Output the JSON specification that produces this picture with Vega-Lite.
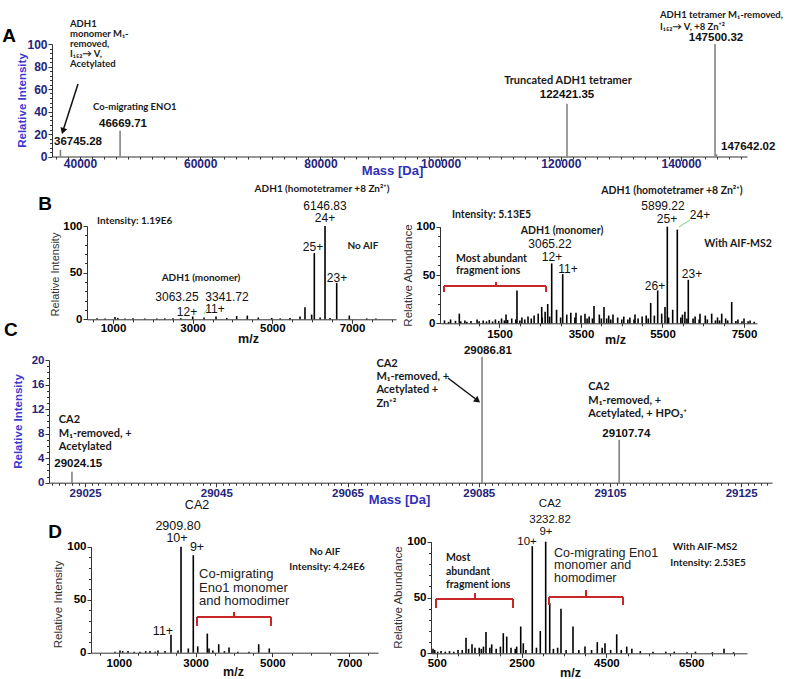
{
"$schema": "https://vega.github.io/schema/vega-lite/v6.json",
"width": 800, "height": 679, "padding": 0, "autosize": {"type": "none"},
"background": "white",
"config": {"view": {"stroke": null}, "font": "Liberation Sans",
  "axis": {"grid": false, "labelFont": "Liberation Sans", "titleFont": "Liberation Sans", "domainColor": "#333", "tickColor": "#333", "labelOverlap": false, "labelFlush": false, "tickSize": 4, "domainWidth": 1, "tickWidth": 1}},
"datasets": {
 "A_pk": [{"m":36745,"h":6},{"m":46669,"h":23},{"m":121030,"h":47},{"m":145660,"h":100},{"m":145900,"h":2}],
 "A_ann": [
  {"k":"note","x":38336,"y":117.8,"t":"ADH1"},
  {"k":"note","x":38336,"y":108.9,"t":"monomer M₁-"},
  {"k":"note","x":38336,"y":100.0,"t":"removed,"},
  {"k":"note","x":38336,"y":91.1,"t":"I₁₅₂→ V,"},
  {"k":"note","x":38336,"y":82.2,"t":"Acetylated"},
  {"k":"note","x":42163,"y":44.0,"t":"Co-migrating ENO1"},
  {"k":"notec","x":121198,"y":67.1,"t":"Truncated ADH1 tetramer"},
  {"k":"note","x":136506,"y":125.8,"t":"ADH1 tetramer M₁-removed,"},
  {"k":"note","x":136506,"y":115.1,"t":"I₁₅₂→ V, +8 Zn⁺²"},
  {"k":"num","x":47155,"y":28.9,"t":"46669.71"},
  {"k":"num","x":39667,"y":12.9,"t":"36745.28"},
  {"k":"num","x":121032,"y":54.7,"t":"122421.35"},
  {"k":"num","x":145824,"y":105.3,"t":"147500.32"},
  {"k":"numl","x":146656,"y":8.4,"t":"147642.02"},
  {"k":"letter","x":28186,"y":107.1,"t":"A"}],
 "A_arrow": [{"x":39667,"y":64.4,"x2":37155,"y2":22.6}],
 "A_head": [{"x":37155,"y":22.6}],
 "BL_pk": [{"m":6054,"h":71},{"m":6323,"h":100},{"m":6616,"h":39},{"m":5820,"h":13},{"m":5988,"h":5},{"m":5695,"h":3},{"m":6933,"h":4},{"m":4372,"h":4},{"m":4105,"h":3.5},{"m":3586,"h":3},{"m":3001,"h":3},{"m":3285,"h":2},{"m":1050,"h":2.5},{"m":1120,"h":1.5},{"m":4648,"h":2},{"m":4984,"h":1.5},{"m":1502,"h":1},{"m":2506,"h":1},{"m":3855,"h":1.5},{"m":5444,"h":1.5},{"m":7370,"h":1},{"m":600,"h":1},{"m":800,"h":0.8},{"m":1300,"h":0.8},{"m":1800,"h":0.8},{"m":2100,"h":0.8},{"m":2300,"h":1},{"m":2700,"h":1.2},{"m":5200,"h":1},{"m":6450,"h":1.5},{"m":6200,"h":2},{"m":7600,"h":0.8}],
 "BL_ann": [
  {"k":"letter","x":-707,"y":123.6,"t":"B"},
  {"k":"note","x":598,"y":105.4,"t":"Intensity: 1.19E6"},
  {"k":"notec","x":6247,"y":139.7,"t":"ADH1 (homotetramer +8 Zn²⁺)"},
  {"k":"num","x":6323,"y":121.4,"t":"6146.83"},
  {"k":"num","x":6323,"y":108.6,"t":"24+"},
  {"k":"num","x":6021,"y":77.5,"t":"25+"},
  {"k":"notec","x":7277,"y":78.6,"t":"No AIF"},
  {"k":"num","x":6624,"y":44.3,"t":"23+"},
  {"k":"notec","x":3209,"y":44.3,"t":"ADH1 (monomer)"},
  {"k":"num","x":2607,"y":23.8,"t":"3063.25"},
  {"k":"num","x":3862,"y":23.8,"t":"3341.72"},
  {"k":"num","x":2858,"y":7.8,"t":"12+"},
  {"k":"num","x":3561,"y":11.0,"t":"11+"}],
 "BL_green": [{"x":3285,"y":5.7,"x2":3435,"y2":15.3}],
 "BR_pk": [{"m":5618,"h":100},{"m":5863,"h":97},{"m":6133,"h":45},{"m":5382,"h":34},{"m":5210,"h":21},{"m":5561,"h":17},{"m":2781,"h":62},{"m":3051,"h":51},{"m":1929,"h":34},{"m":2683,"h":20},{"m":2536,"h":17},{"m":7198,"h":22},{"m":3819,"h":18},{"m":4064,"h":17},{"m":3598,"h":10},{"m":3377,"h":11},{"m":514,"h":10},{"m":1660,"h":9},{"m":6707,"h":10},{"m":6953,"h":10},{"m":6420,"h":10},{"m":4285,"h":9},{"m":4825,"h":9},
  {"m":150,"h":3},{"m":250,"h":1.5},{"m":300,"h":4},{"m":420,"h":2.5},{"m":550,"h":2},{"m":650,"h":3},{"m":700,"h":1.5},{"m":800,"h":2.5},{"m":950,"h":4},{"m":1000,"h":2},{"m":1100,"h":3},{"m":1180,"h":2},{"m":1250,"h":3.5},{"m":1330,"h":2},{"m":1400,"h":4},{"m":1480,"h":2.5},{"m":1550,"h":5},{"m":1620,"h":3},{"m":1700,"h":3.5},{"m":1800,"h":5},{"m":1900,"h":4},{"m":2000,"h":3},{"m":2050,"h":6},{"m":2120,"h":4},{"m":2200,"h":7},{"m":2280,"h":5},{"m":2350,"h":8},{"m":2450,"h":10},{"m":2550,"h":6},{"m":2620,"h":12},{"m":2730,"h":7},{"m":2900,"h":14},{"m":3000,"h":6},{"m":3150,"h":9},{"m":3250,"h":11},{"m":3350,"h":6},{"m":3500,"h":8},{"m":3650,"h":5},{"m":3700,"h":7},{"m":3780,"h":5},{"m":3950,"h":9},{"m":4000,"h":5},{"m":4130,"h":5},{"m":4180,"h":8},{"m":4230,"h":4},{"m":4400,"h":6},{"m":4500,"h":4},{"m":4550,"h":7},{"m":4650,"h":4},{"m":4700,"h":6},{"m":4800,"h":4},{"m":4900,"h":5},{"m":5000,"h":7},{"m":5100,"h":8},{"m":5150,"h":5},{"m":5300,"h":8},{"m":5480,"h":10},{"m":5650,"h":6},{"m":5750,"h":14},{"m":5950,"h":6},{"m":5990,"h":9},{"m":6050,"h":12},{"m":6100,"h":5},{"m":6250,"h":5},{"m":6300,"h":7},{"m":6400,"h":4},{"m":6550,"h":8},{"m":6600,"h":4},{"m":6800,"h":3},{"m":6850,"h":6},{"m":6900,"h":3},{"m":7050,"h":5},{"m":7100,"h":3},{"m":7300,"h":2.5},{"m":7350,"h":4},{"m":7450,"h":2},{"m":7500,"h":5},{"m":7600,"h":2},{"m":7650,"h":3},{"m":7750,"h":1.5}],
 "BR_ann": [
  {"k":"notec","x":5733,"y":137.0,"t":"ADH1 (homotetramer +8 Zn²⁺)"},
  {"k":"num","x":5512,"y":121.0,"t":"5899.22"},
  {"k":"num","x":5610,"y":107.6,"t":"25+"},
  {"k":"num","x":6420,"y":112.1,"t":"24+"},
  {"k":"note","x":334,"y":112.1,"t":"Intensity: 5.13E5"},
  {"k":"notec","x":3034,"y":95.5,"t":"ADH1 (monomer)"},
  {"k":"num","x":2739,"y":81.6,"t":"3065.22"},
  {"k":"num","x":2788,"y":68.2,"t":"12+"},
  {"k":"num","x":3181,"y":56.2,"t":"11+"},
  {"k":"note","x":432,"y":66.6,"t":"Most abundant"},
  {"k":"note","x":432,"y":54.1,"t":"fragment ions"},
  {"k":"notec","x":7355,"y":82.1,"t":"With AIF-MS2"},
  {"k":"num","x":5316,"y":38.6,"t":"26+"},
  {"k":"num","x":6224,"y":51.0,"t":"23+"}],
 "BR_green": [{"x":5905,"y":99.7,"x2":6175,"y2":106.9}],
 "BR_br": [{"x":138,"y":38.6,"x2":2642,"y2":38.6},{"x":138,"y":38.6,"x2":138,"y2":32.4},{"x":2642,"y":38.6,"x2":2642,"y2":32.4},{"x":1414,"y":38.6,"x2":1414,"y2":42.8}],
 "C_pk": [{"m":29023.0,"h":1.8},{"m":29085.5,"h":20.5},{"m":29106.4,"h":7.0}],
 "C_ann": [
  {"k":"letter","x":29013.7,"y":24.9,"t":"C"},
  {"k":"note","x":29021.0,"y":10.22,"t":"CA2"},
  {"k":"note","x":29021.0,"y":7.94,"t":"M₁-removed, +"},
  {"k":"note","x":29021.0,"y":5.82,"t":"Acetylated"},
  {"k":"numl","x":29020.3,"y":3.05,"t":"29024.15"},
  {"k":"note","x":29069.4,"y":19.35,"t":"CA2"},
  {"k":"note","x":29069.4,"y":17.23,"t":"M₁-removed, +"},
  {"k":"note","x":29069.4,"y":15.11,"t":"Acetylated +"},
  {"k":"note","x":29069.4,"y":12.83,"t":"Zn⁺²"},
  {"k":"num","x":29086.4,"y":21.47,"t":"29086.81"},
  {"k":"note","x":29101.7,"y":15.6,"t":"CA2"},
  {"k":"note","x":29101.7,"y":13.32,"t":"M₁-removed, +"},
  {"k":"note","x":29101.7,"y":11.2,"t":"Acetylated, + HPO₃⁺"},
  {"k":"num","x":29107.5,"y":7.94,"t":"29107.74"}],
 "C_arrow": [{"x":29080.3,"y":17.07,"x2":29084.83,"y2":13.4}],
 "C_head": [{"x":29084.83,"y":13.4}],
 "DL_pk": [{"m":2620,"h":100},{"m":2940,"h":92},{"m":2359,"h":17},{"m":3305,"h":18},{"m":3602,"h":8},{"m":3870,"h":5},{"m":4643,"h":8},{"m":4919,"h":4},{"m":3055,"h":6},{"m":2810,"h":4},{"m":3349,"h":4},{"m":4391,"h":1},{"m":1031,"h":2},{"m":1100,"h":1.5},{"m":1240,"h":1.5},{"m":1400,"h":1},{"m":1552,"h":1},{"m":1700,"h":1.5},{"m":1812,"h":1.5},{"m":1950,"h":1},{"m":2021,"h":2},{"m":2203,"h":1.5},{"m":2542,"h":2},{"m":900,"h":1},{"m":3450,"h":2},{"m":3750,"h":1.5},{"m":4100,"h":1}],
 "DL_ann": [
  {"k":"letter","x":-661,"y":113.9,"t":"D"},
  {"k":"num","x":3037,"y":139.3,"t":"CA2"},
  {"k":"num","x":2542,"y":119.5,"t":"2909.80"},
  {"k":"num","x":2516,"y":108.2,"t":"10+"},
  {"k":"num","x":3037,"y":99.7,"t":"9+"},
  {"k":"notec","x":6370,"y":95.0,"t":"No AIF"},
  {"k":"notec","x":6422,"y":80.8,"t":"Intensity: 4.24E6"},
  {"k":"big","x":3089,"y":74.2,"t":"Co-migrating"},
  {"k":"big","x":3089,"y":61.5,"t":"Eno1 monomer"},
  {"k":"big","x":3089,"y":49.2,"t":"and homodimer"},
  {"k":"num","x":2151,"y":20.5,"t":"11+"}],
 "DL_br": [{"x":3037,"y":33.7,"x2":4963,"y2":33.7},{"x":3037,"y":33.7,"x2":3037,"y2":25.2},{"x":4963,"y":33.7,"x2":4963,"y2":25.2},{"x":4000,"y":33.7,"x2":4000,"y2":38.4}],
 "DR_pk": [{"m":3068,"h":100},{"m":2752,"h":96},{"m":3163,"h":45},{"m":3429,"h":40},{"m":3712,"h":24},{"m":2479,"h":24},{"m":2941,"h":20},{"m":2068,"h":18},{"m":2149,"h":15},{"m":1660,"h":19},{"m":1189,"h":14},{"m":1330,"h":8},{"m":1795,"h":8},{"m":4743,"h":17},{"m":4285,"h":10},{"m":4467,"h":9},{"m":3995,"h":6},{"m":4979,"h":6},{"m":7274,"h":4},{"m":410,"h":4},{"m":2540,"h":9},{"m":2384,"h":6},
  {"m":450,"h":3},{"m":520,"h":1.5},{"m":600,"h":2},{"m":700,"h":1.5},{"m":800,"h":2},{"m":900,"h":1.5},{"m":1000,"h":3},{"m":1100,"h":3},{"m":1250,"h":4},{"m":1400,"h":5},{"m":1500,"h":5},{"m":1550,"h":4},{"m":1600,"h":6},{"m":1750,"h":5},{"m":1900,"h":4},{"m":2000,"h":6},{"m":2250,"h":5},{"m":2350,"h":4},{"m":2600,"h":3},{"m":2850,"h":5},{"m":3250,"h":4},{"m":3350,"h":5},{"m":3550,"h":3},{"m":3850,"h":3},{"m":4150,"h":3},{"m":4400,"h":5},{"m":4600,"h":3},{"m":4850,"h":3},{"m":5100,"h":4},{"m":5300,"h":2},{"m":5600,"h":1.5},{"m":5900,"h":1.5},{"m":6100,"h":1.5},{"m":6400,"h":1},{"m":6600,"h":1.5},{"m":7000,"h":1},{"m":7500,"h":1}],
 "DR_ann": [
  {"k":"num","x":3170,"y":134.0,"t":"CA2"},
  {"k":"num","x":3170,"y":119.8,"t":"3232.82"},
  {"k":"num","x":3075,"y":108.3,"t":"9+"},
  {"k":"num","x":2627,"y":99.7,"t":"10+"},
  {"k":"big","x":3264,"y":89.8,"t":"Co-migrating Eno1"},
  {"k":"big","x":3264,"y":79.1,"t":"monomer and"},
  {"k":"big","x":3264,"y":67.5,"t":"homodimer"},
  {"k":"note","x":717,"y":85.4,"t":"Most"},
  {"k":"note","x":717,"y":72.8,"t":"abundant"},
  {"k":"note","x":717,"y":61.2,"t":"fragment ions"},
  {"k":"notec","x":6826,"y":95.3,"t":"With AIF-MS2"},
  {"k":"notec","x":6896,"y":80.9,"t":"Intensity: 2.53E5"}],
 "DR_br": [{"x":3146,"y":50.4,"x2":4892,"y2":50.4},{"x":3146,"y":50.4,"x2":3146,"y2":43.3},{"x":4892,"y":50.4,"x2":4892,"y2":43.3},{"x":4019,"y":50.4,"x2":4019,"y2":56.7},{"x":481,"y":48.7,"x2":2297,"y2":48.7},{"x":481,"y":48.7,"x2":481,"y2":40.6},{"x":2297,"y":48.7,"x2":2297,"y2":40.6},{"x":1401,"y":48.7,"x2":1401,"y2":54.0}]
},
"resolve": {"scale": {"x": "independent", "y": "independent"}, "axis": {"x": "independent", "y": "independent"}},
"layer": [
 {"data": {"name": "A_pk"}, "mark": {"type": "point", "opacity": 0},
  "encoding": {
   "x": {"field": "m", "type": "quantitative", "scale": {"domain": [35341, 150982], "range": [52, 747], "nice": false, "zero": false},
     "axis": {"orient": "bottom", "offset": -522.5, "values": [36000,38000,42000,44000,46000,48000,50000,52000,54000,56000,58000,62000,64000,66000,68000,70000,72000,74000,76000,78000,82000,84000,86000,88000,90000,92000,94000,96000,98000,102000,104000,106000,108000,110000,112000,114000,116000,118000,122000,124000,126000,128000,130000,132000,134000,136000,138000,142000,144000,146000,148000,150000], "labels": false, "domain": false, "title": null, "tickSize": 2.5}},
   "y": {"field": "h", "type": "quantitative", "scale": {"domain": [0, 100], "range": [156.5, 44], "nice": false, "zero": false},
     "axis": {"orient": "left", "offset": -52, "values": [4,8,12,16,24,28,32,36,44,48,52,56,64,68,72,76,84,88,92,96], "labels": false, "domain": false, "title": null, "tickSize": 2.5}}}},
 {"data": {"name": "BL_pk"}, "mark": {"type": "point", "opacity": 0},
  "encoding": {
   "x": {"field": "m", "type": "quantitative", "scale": {"domain": [347, 8105], "range": [87, 396], "nice": false, "zero": false},
     "axis": {"orient": "bottom", "offset": -359.7, "values": [500,1500,2000,2500,3500,4000,4500,5500,6000,6500,7500,8000], "labels": false, "domain": false, "title": null, "tickSize": 2.5}},
   "y": {"field": "h", "type": "quantitative", "scale": {"domain": [0, 100], "range": [319.3, 226], "nice": false, "zero": false},
     "axis": {"orient": "left", "offset": -87, "values": [10,20,30,40,60,70,80,90], "labels": false, "domain": false, "title": null, "tickSize": 2.5}}}},
 {"data": {"name": "BR_pk"}, "mark": {"type": "point", "opacity": 0},
  "encoding": {
   "x": {"field": "m", "type": "quantitative", "scale": {"domain": [40, 7819], "range": [440, 757], "nice": false, "zero": false},
     "axis": {"orient": "bottom", "offset": -355.7, "values": [500,1000,2000,2500,3000,4000,4500,5000,6000,6500,7000], "labels": false, "domain": false, "title": null, "tickSize": 2.5}},
   "y": {"field": "h", "type": "quantitative", "scale": {"domain": [0, 100], "range": [323.3, 226.7], "nice": false, "zero": false},
     "axis": {"orient": "left", "offset": -440, "values": [10,20,30,40,60,70,80,90], "labels": false, "domain": false, "title": null, "tickSize": 2.5}}}},
 {"data": {"name": "C_pk"}, "mark": {"type": "point", "opacity": 0},
  "encoding": {
   "x": {"field": "m", "type": "quantitative", "scale": {"domain": [29019.5, 29129.7], "range": [49, 772], "nice": false, "zero": false},
     "axis": {"orient": "bottom", "offset": -196.3, "values": [29020,29021,29022,29023,29024,29026,29027,29028,29029,29030,29031,29032,29033,29034,29035,29036,29037,29038,29039,29040,29041,29042,29043,29044,29046,29047,29048,29049,29050,29051,29052,29053,29054,29055,29056,29057,29058,29059,29060,29061,29062,29063,29064,29066,29067,29068,29069,29070,29071,29072,29073,29074,29075,29076,29077,29078,29079,29080,29081,29082,29083,29084,29086,29087,29088,29089,29090,29091,29092,29093,29094,29095,29096,29097,29098,29099,29100,29101,29102,29103,29104,29106,29107,29108,29109,29110,29111,29112,29113,29114,29115,29116,29117,29118,29119,29120,29121,29122,29123,29124,29126,29127,29128,29129], "labels": false, "domain": false, "title": null, "tickSize": 2.5}},
   "y": {"field": "h", "type": "quantitative", "scale": {"domain": [0, 20], "range": [482.7, 360], "nice": false, "zero": false},
     "axis": {"orient": "left", "offset": -49, "values": [1,2,3,5,6,7,9,10,11,13,14,15,17,18,19], "labels": false, "domain": false, "title": null, "tickSize": 2.5}}}},
 {"data": {"name": "DL_pk"}, "mark": {"type": "point", "opacity": 0},
  "encoding": {
   "x": {"field": "m", "type": "quantitative", "scale": {"domain": [276, 7750], "range": [91, 378], "nice": false, "zero": false},
     "axis": {"orient": "bottom", "offset": -26.3, "values": [500,1500,2000,2500,3500,4000,4500,5500,6000,6500,7500], "labels": false, "domain": false, "title": null, "tickSize": 2.5}},
   "y": {"field": "h", "type": "quantitative", "scale": {"domain": [0, 100], "range": [652.7, 546.7], "nice": false, "zero": false},
     "axis": {"orient": "left", "offset": -91, "values": [10,20,30,40,60,70,80,90], "labels": false, "domain": false, "title": null, "tickSize": 2.5}}}},
 {"data": {"name": "DR_pk"}, "mark": {"type": "point", "opacity": 0},
  "encoding": {
   "x": {"field": "m", "type": "quantitative", "scale": {"domain": [363, 7816], "range": [431, 747], "nice": false, "zero": false},
     "axis": {"orient": "bottom", "offset": -25.7, "values": [1000,1500,2000,3000,3500,4000,5000,5500,6000,7000,7500], "labels": false, "domain": false, "title": null, "tickSize": 2.5}},
   "y": {"field": "h", "type": "quantitative", "scale": {"domain": [0, 100], "range": [653.3, 541.7], "nice": false, "zero": false},
     "axis": {"orient": "left", "offset": -431, "values": [10,20,30,40,60,70,80,90], "labels": false, "domain": false, "title": null, "tickSize": 2.5}}}},
 {"layer": [
  {"data": {"name": "A_pk"}, "mark": {"type": "rule", "color": "#7a7a7a", "strokeWidth": 1.5},
   "encoding": {
    "x": {"field": "m", "type": "quantitative", "scale": {"domain": [35341, 150982], "range": [52, 747], "nice": false, "zero": false},
      "axis": {"orient": "bottom", "offset": -522.5, "values": [40000,60000,80000,100000,120000,140000],
        "format": "d", "labelOverlap": false, "labelFontSize": 12, "labelFontWeight": "bold", "labelColor": "#24247a", "labelPadding": -2,
        "title": "Mass [Da]", "titleX": 392, "titleY": 14, "titleAlign": "center", "titleBaseline": "middle", "titleAngle": 0, "titleFontSize": 13, "titleFontWeight": "bold", "titleColor": "#3030b8"}},
    "y": {"field": "h", "type": "quantitative", "scale": {"domain": [0, 100], "range": [156.5, 44], "nice": false, "zero": false},
      "axis": {"orient": "left", "offset": -52, "values": [0,20,40,60,80,100],
        "format": "d", "labelOverlap": false, "labelFontSize": 12, "labelFontWeight": "bold", "labelColor": "#24247a", "labelPadding": 1,
        "title": "Relative Intensity", "titleX": -30, "titleY": 100, "titleAngle": -90, "titleAlign": "center", "titleBaseline": "middle", "titleFontSize": 11.5, "titleFontWeight": "bold", "titleColor": "#3a3ad0"}},
    "y2": {"datum": 0}}},
  {"data": {"name": "A_arrow"}, "mark": {"type": "rule", "color": "#111", "strokeWidth": 1.5},
   "encoding": {"x": {"field": "x", "type": "quantitative"}, "y": {"field": "y", "type": "quantitative"}, "x2": {"field": "x2"}, "y2": {"field": "y2"}}},
  {"data": {"name": "A_head"}, "mark": {"type": "point", "shape": "triangle-up", "angle": 198, "size": 50, "filled": true, "color": "#111", "opacity": 1},
   "encoding": {"x": {"field": "x", "type": "quantitative"}, "y": {"field": "y", "type": "quantitative"}}},
  {"data": {"name": "A_ann"}, "transform": [{"filter": "datum.k === 'note'"}], "mark": {"type": "text", "align": "left", "baseline": "middle", "font": "Lato", "fontWeight": "bold", "fontSize": 9.5, "color": "#1a1a1a"},
   "encoding": {"x": {"field": "x", "type": "quantitative"}, "y": {"field": "y", "type": "quantitative"}, "text": {"field": "t"}}},
  {"data": {"name": "A_ann"}, "transform": [{"filter": "datum.k === 'notec'"}], "mark": {"type": "text", "align": "center", "baseline": "middle", "font": "Lato", "fontWeight": "bold", "fontSize": 11, "color": "#1a1a1a"},
   "encoding": {"x": {"field": "x", "type": "quantitative"}, "y": {"field": "y", "type": "quantitative"}, "text": {"field": "t"}}},
  {"data": {"name": "A_ann"}, "transform": [{"filter": "datum.k === 'num'"}], "mark": {"type": "text", "align": "center", "baseline": "middle", "fontWeight": "bold", "fontSize": 11.5, "color": "#111"},
   "encoding": {"x": {"field": "x", "type": "quantitative"}, "y": {"field": "y", "type": "quantitative"}, "text": {"field": "t"}}},
  {"data": {"name": "A_ann"}, "transform": [{"filter": "datum.k === 'numl'"}], "mark": {"type": "text", "align": "left", "baseline": "middle", "fontWeight": "bold", "fontSize": 11.5, "color": "#111"},
   "encoding": {"x": {"field": "x", "type": "quantitative"}, "y": {"field": "y", "type": "quantitative"}, "text": {"field": "t"}}},
  {"data": {"name": "A_ann"}, "transform": [{"filter": "datum.k === 'letter'"}], "mark": {"type": "text", "align": "center", "baseline": "middle", "fontWeight": "bold", "fontSize": 19, "color": "#000"},
   "encoding": {"x": {"field": "x", "type": "quantitative"}, "y": {"field": "y", "type": "quantitative"}, "text": {"field": "t"}}}
 ]},
 {"layer": [
  {"data": {"name": "BL_pk"}, "mark": {"type": "rule", "color": "#000", "strokeWidth": 1.6},
   "encoding": {
    "x": {"field": "m", "type": "quantitative", "scale": {"domain": [347, 8105], "range": [87, 396], "nice": false, "zero": false},
      "axis": {"orient": "bottom", "offset": -359.7, "values": [1000,3000,5000,7000],
        "format": "d", "labelOverlap": false, "labelFontSize": 11.5, "labelFontWeight": "bold", "labelColor": "#000", "labelPadding": -1,
        "title": "m/z", "titleX": 248, "titleY": 19, "titleAlign": "center", "titleBaseline": "middle", "titleAngle": 0, "titleFontSize": 12.5, "titleFontWeight": "bold", "titleColor": "#111"}},
    "y": {"field": "h", "type": "quantitative", "scale": {"domain": [0, 100], "range": [319.3, 226], "nice": false, "zero": false},
      "axis": {"orient": "left", "offset": -87, "values": [0,50,100],
        "format": "d", "labelOverlap": false, "labelFontSize": 11.5, "labelFontWeight": "bold", "labelColor": "#000", "labelPadding": 1,
        "title": "Relative Intensity", "titleX": -32, "titleY": 274, "titleAngle": -90, "titleAlign": "center", "titleBaseline": "middle", "titleFontSize": 11, "titleFontWeight": "normal", "titleColor": "#333"}},
    "y2": {"datum": 0}}},
  {"data": {"name": "BL_green"}, "mark": {"type": "rule", "color": "#7fc97f", "strokeWidth": 1},
   "encoding": {"x": {"field": "x", "type": "quantitative"}, "y": {"field": "y", "type": "quantitative"}, "x2": {"field": "x2"}, "y2": {"field": "y2"}}},
  {"data": {"name": "BL_ann"}, "transform": [{"filter": "datum.k === 'note'"}], "mark": {"type": "text", "align": "left", "baseline": "middle", "font": "Lato", "fontWeight": "bold", "fontSize": 10, "color": "#1a1a1a"},
   "encoding": {"x": {"field": "x", "type": "quantitative"}, "y": {"field": "y", "type": "quantitative"}, "text": {"field": "t"}}},
  {"data": {"name": "BL_ann"}, "transform": [{"filter": "datum.k === 'notec'"}], "mark": {"type": "text", "align": "center", "baseline": "middle", "font": "Lato", "fontWeight": "bold", "fontSize": 10, "color": "#1a1a1a"},
   "encoding": {"x": {"field": "x", "type": "quantitative"}, "y": {"field": "y", "type": "quantitative"}, "text": {"field": "t"}}},
  {"data": {"name": "BL_ann"}, "transform": [{"filter": "datum.k === 'num'"}], "mark": {"type": "text", "align": "center", "baseline": "middle", "fontSize": 12, "color": "#111"},
   "encoding": {"x": {"field": "x", "type": "quantitative"}, "y": {"field": "y", "type": "quantitative"}, "text": {"field": "t"}}},
  {"data": {"name": "BL_ann"}, "transform": [{"filter": "datum.k === 'letter'"}], "mark": {"type": "text", "align": "center", "baseline": "middle", "fontWeight": "bold", "fontSize": 19, "color": "#000"},
   "encoding": {"x": {"field": "x", "type": "quantitative"}, "y": {"field": "y", "type": "quantitative"}, "text": {"field": "t"}}}
 ]},
 {"layer": [
  {"data": {"name": "BR_pk"}, "mark": {"type": "rule", "color": "#000", "strokeWidth": 1.6},
   "encoding": {
    "x": {"field": "m", "type": "quantitative", "scale": {"domain": [40, 7819], "range": [440, 757], "nice": false, "zero": false},
      "axis": {"orient": "bottom", "offset": -355.7, "values": [1500,3500,5500,7500],
        "format": "d", "labelOverlap": false, "labelFontSize": 11.5, "labelFontWeight": "bold", "labelColor": "#000", "labelPadding": 1,
        "title": "m/z", "titleX": 615, "titleY": 16, "titleAlign": "center", "titleBaseline": "middle", "titleAngle": 0, "titleFontSize": 12.5, "titleFontWeight": "bold", "titleColor": "#111"}},
    "y": {"field": "h", "type": "quantitative", "scale": {"domain": [0, 100], "range": [323.3, 226.7], "nice": false, "zero": false},
      "axis": {"orient": "left", "offset": -440, "values": [0,50,100],
        "format": "d", "labelOverlap": false, "labelFontSize": 11.5, "labelFontWeight": "bold", "labelColor": "#000", "labelPadding": 1,
        "title": "Relative Abundance", "titleX": -32, "titleY": 275, "titleAngle": -90, "titleAlign": "center", "titleBaseline": "middle", "titleFontSize": 11.5, "titleFontWeight": "normal", "titleColor": "#333"}},
    "y2": {"datum": 0}}},
  {"data": {"name": "BR_green"}, "mark": {"type": "rule", "color": "#7fc97f", "strokeWidth": 1},
   "encoding": {"x": {"field": "x", "type": "quantitative"}, "y": {"field": "y", "type": "quantitative"}, "x2": {"field": "x2"}, "y2": {"field": "y2"}}},
  {"data": {"name": "BR_br"}, "mark": {"type": "rule", "color": "#c62828", "strokeWidth": 2},
   "encoding": {"x": {"field": "x", "type": "quantitative"}, "y": {"field": "y", "type": "quantitative"}, "x2": {"field": "x2"}, "y2": {"field": "y2"}}},
  {"data": {"name": "BR_ann"}, "transform": [{"filter": "datum.k === 'note'"}], "mark": {"type": "text", "align": "left", "baseline": "middle", "font": "Lato", "fontWeight": "bold", "fontSize": 10.5, "color": "#1a1a1a"},
   "encoding": {"x": {"field": "x", "type": "quantitative"}, "y": {"field": "y", "type": "quantitative"}, "text": {"field": "t"}}},
  {"data": {"name": "BR_ann"}, "transform": [{"filter": "datum.k === 'notec'"}], "mark": {"type": "text", "align": "center", "baseline": "middle", "font": "Lato", "fontWeight": "bold", "fontSize": 10.5, "color": "#1a1a1a"},
   "encoding": {"x": {"field": "x", "type": "quantitative"}, "y": {"field": "y", "type": "quantitative"}, "text": {"field": "t"}}},
  {"data": {"name": "BR_ann"}, "transform": [{"filter": "datum.k === 'num'"}], "mark": {"type": "text", "align": "center", "baseline": "middle", "fontSize": 12, "color": "#111"},
   "encoding": {"x": {"field": "x", "type": "quantitative"}, "y": {"field": "y", "type": "quantitative"}, "text": {"field": "t"}}}
 ]},
 {"layer": [
  {"data": {"name": "C_pk"}, "mark": {"type": "rule", "color": "#7a7a7a", "strokeWidth": 1.5},
   "encoding": {
    "x": {"field": "m", "type": "quantitative", "scale": {"domain": [29019.5, 29129.7], "range": [49, 772], "nice": false, "zero": false},
      "axis": {"orient": "bottom", "offset": -196.3, "values": [29025,29045,29065,29085,29105,29125],
        "format": "d", "labelOverlap": false, "labelFontSize": 11.5, "labelFontWeight": "bold", "labelColor": "#24247a", "labelPadding": 1,
        "title": "Mass [Da]", "titleX": 399, "titleY": 17, "titleAlign": "center", "titleBaseline": "middle", "titleAngle": 0, "titleFontSize": 13, "titleFontWeight": "bold", "titleColor": "#3030b8"}},
    "y": {"field": "h", "type": "quantitative", "scale": {"domain": [0, 20], "range": [482.7, 360], "nice": false, "zero": false},
      "axis": {"orient": "left", "offset": -49, "values": [0,4,8,12,16,20],
        "format": "d", "labelOverlap": false, "labelFontSize": 11.5, "labelFontWeight": "bold", "labelColor": "#24247a", "labelPadding": 1,
        "title": "Relative Intensity", "titleX": -31, "titleY": 421, "titleAngle": -90, "titleAlign": "center", "titleBaseline": "middle", "titleFontSize": 11.5, "titleFontWeight": "bold", "titleColor": "#3a3ad0"}},
    "y2": {"datum": 0}}},
  {"data": {"name": "C_arrow"}, "mark": {"type": "rule", "color": "#111", "strokeWidth": 1.5},
   "encoding": {"x": {"field": "x", "type": "quantitative"}, "y": {"field": "y", "type": "quantitative"}, "x2": {"field": "x2"}, "y2": {"field": "y2"}}},
  {"data": {"name": "C_head"}, "mark": {"type": "point", "shape": "triangle-up", "angle": 128, "size": 50, "filled": true, "color": "#111", "opacity": 1},
   "encoding": {"x": {"field": "x", "type": "quantitative"}, "y": {"field": "y", "type": "quantitative"}}},
  {"data": {"name": "C_ann"}, "transform": [{"filter": "datum.k === 'note'"}], "mark": {"type": "text", "align": "left", "baseline": "middle", "font": "Lato", "fontWeight": "bold", "fontSize": 11, "color": "#1a1a1a"},
   "encoding": {"x": {"field": "x", "type": "quantitative"}, "y": {"field": "y", "type": "quantitative"}, "text": {"field": "t"}}},
  {"data": {"name": "C_ann"}, "transform": [{"filter": "datum.k === 'num'"}], "mark": {"type": "text", "align": "center", "baseline": "middle", "fontWeight": "bold", "fontSize": 11.5, "color": "#111"},
   "encoding": {"x": {"field": "x", "type": "quantitative"}, "y": {"field": "y", "type": "quantitative"}, "text": {"field": "t"}}},
  {"data": {"name": "C_ann"}, "transform": [{"filter": "datum.k === 'numl'"}], "mark": {"type": "text", "align": "left", "baseline": "middle", "fontWeight": "bold", "fontSize": 11.5, "color": "#111"},
   "encoding": {"x": {"field": "x", "type": "quantitative"}, "y": {"field": "y", "type": "quantitative"}, "text": {"field": "t"}}},
  {"data": {"name": "C_ann"}, "transform": [{"filter": "datum.k === 'letter'"}], "mark": {"type": "text", "align": "center", "baseline": "middle", "fontWeight": "bold", "fontSize": 19, "color": "#000"},
   "encoding": {"x": {"field": "x", "type": "quantitative"}, "y": {"field": "y", "type": "quantitative"}, "text": {"field": "t"}}}
 ]},
 {"layer": [
  {"data": {"name": "DL_pk"}, "mark": {"type": "rule", "color": "#000", "strokeWidth": 1.6},
   "encoding": {
    "x": {"field": "m", "type": "quantitative", "scale": {"domain": [276, 7750], "range": [91, 378], "nice": false, "zero": false},
      "axis": {"orient": "bottom", "offset": -26.3, "values": [1000,3000,5000,7000],
        "format": "d", "labelOverlap": false, "labelFontSize": 11.5, "labelFontWeight": "bold", "labelColor": "#000", "labelPadding": 1,
        "title": "m/z", "titleX": 233, "titleY": 19, "titleAlign": "center", "titleBaseline": "middle", "titleAngle": 0, "titleFontSize": 12.5, "titleFontWeight": "bold", "titleColor": "#111"}},
    "y": {"field": "h", "type": "quantitative", "scale": {"domain": [0, 100], "range": [652.7, 546.7], "nice": false, "zero": false},
      "axis": {"orient": "left", "offset": -91, "values": [0,50,100],
        "format": "d", "labelOverlap": false, "labelFontSize": 11.5, "labelFontWeight": "bold", "labelColor": "#000", "labelPadding": 1,
        "title": "Relative Intensity", "titleX": -33, "titleY": 604, "titleAngle": -90, "titleAlign": "center", "titleBaseline": "middle", "titleFontSize": 11.5, "titleFontWeight": "normal", "titleColor": "#333"}},
    "y2": {"datum": 0}}},
  {"data": {"name": "DL_br"}, "mark": {"type": "rule", "color": "#c62828", "strokeWidth": 2},
   "encoding": {"x": {"field": "x", "type": "quantitative"}, "y": {"field": "y", "type": "quantitative"}, "x2": {"field": "x2"}, "y2": {"field": "y2"}}},
  {"data": {"name": "DL_ann"}, "transform": [{"filter": "datum.k === 'notec'"}], "mark": {"type": "text", "align": "center", "baseline": "middle", "font": "Lato", "fontWeight": "bold", "fontSize": 10, "color": "#1a1a1a"},
   "encoding": {"x": {"field": "x", "type": "quantitative"}, "y": {"field": "y", "type": "quantitative"}, "text": {"field": "t"}}},
  {"data": {"name": "DL_ann"}, "transform": [{"filter": "datum.k === 'num'"}], "mark": {"type": "text", "align": "center", "baseline": "middle", "fontSize": 12.5, "color": "#111"},
   "encoding": {"x": {"field": "x", "type": "quantitative"}, "y": {"field": "y", "type": "quantitative"}, "text": {"field": "t"}}},
  {"data": {"name": "DL_ann"}, "transform": [{"filter": "datum.k === 'big'"}], "mark": {"type": "text", "align": "left", "baseline": "middle", "fontSize": 13, "color": "#222"},
   "encoding": {"x": {"field": "x", "type": "quantitative"}, "y": {"field": "y", "type": "quantitative"}, "text": {"field": "t"}}},
  {"data": {"name": "DL_ann"}, "transform": [{"filter": "datum.k === 'letter'"}], "mark": {"type": "text", "align": "center", "baseline": "middle", "fontWeight": "bold", "fontSize": 19, "color": "#000"},
   "encoding": {"x": {"field": "x", "type": "quantitative"}, "y": {"field": "y", "type": "quantitative"}, "text": {"field": "t"}}}
 ]},
 {"layer": [
  {"data": {"name": "DR_pk"}, "mark": {"type": "rule", "color": "#000", "strokeWidth": 1.6},
   "encoding": {
    "x": {"field": "m", "type": "quantitative", "scale": {"domain": [363, 7816], "range": [431, 747], "nice": false, "zero": false},
      "axis": {"orient": "bottom", "offset": -25.7, "values": [500,2500,4500,6500],
        "format": "d", "labelOverlap": false, "labelFontSize": 11.5, "labelFontWeight": "bold", "labelColor": "#000", "labelPadding": 0,
        "title": "m/z", "titleX": 570, "titleY": 19, "titleAlign": "center", "titleBaseline": "middle", "titleAngle": 0, "titleFontSize": 12.5, "titleFontWeight": "bold", "titleColor": "#111"}},
    "y": {"field": "h", "type": "quantitative", "scale": {"domain": [0, 100], "range": [653.3, 541.7], "nice": false, "zero": false},
      "axis": {"orient": "left", "offset": -431, "values": [0,50,100],
        "format": "d", "labelOverlap": false, "labelFontSize": 11.5, "labelFontWeight": "bold", "labelColor": "#000", "labelPadding": 1,
        "title": "Relative Abundance", "titleX": -33, "titleY": 597, "titleAngle": -90, "titleAlign": "center", "titleBaseline": "middle", "titleFontSize": 11.5, "titleFontWeight": "normal", "titleColor": "#333"}},
    "y2": {"datum": 0}}},
  {"data": {"name": "DR_br"}, "mark": {"type": "rule", "color": "#c62828", "strokeWidth": 2},
   "encoding": {"x": {"field": "x", "type": "quantitative"}, "y": {"field": "y", "type": "quantitative"}, "x2": {"field": "x2"}, "y2": {"field": "y2"}}},
  {"data": {"name": "DR_ann"}, "transform": [{"filter": "datum.k === 'note'"}], "mark": {"type": "text", "align": "left", "baseline": "middle", "font": "Lato", "fontWeight": "bold", "fontSize": 10.5, "color": "#1a1a1a"},
   "encoding": {"x": {"field": "x", "type": "quantitative"}, "y": {"field": "y", "type": "quantitative"}, "text": {"field": "t"}}},
  {"data": {"name": "DR_ann"}, "transform": [{"filter": "datum.k === 'notec'"}], "mark": {"type": "text", "align": "center", "baseline": "middle", "font": "Lato", "fontWeight": "bold", "fontSize": 10, "color": "#1a1a1a"},
   "encoding": {"x": {"field": "x", "type": "quantitative"}, "y": {"field": "y", "type": "quantitative"}, "text": {"field": "t"}}},
  {"data": {"name": "DR_ann"}, "transform": [{"filter": "datum.k === 'num'"}], "mark": {"type": "text", "align": "center", "baseline": "middle", "fontSize": 11.5, "color": "#111"},
   "encoding": {"x": {"field": "x", "type": "quantitative"}, "y": {"field": "y", "type": "quantitative"}, "text": {"field": "t"}}},
  {"data": {"name": "DR_ann"}, "transform": [{"filter": "datum.k === 'big'"}], "mark": {"type": "text", "align": "left", "baseline": "middle", "fontSize": 12.5, "color": "#222"},
   "encoding": {"x": {"field": "x", "type": "quantitative"}, "y": {"field": "y", "type": "quantitative"}, "text": {"field": "t"}}}
 ]}
]
}
